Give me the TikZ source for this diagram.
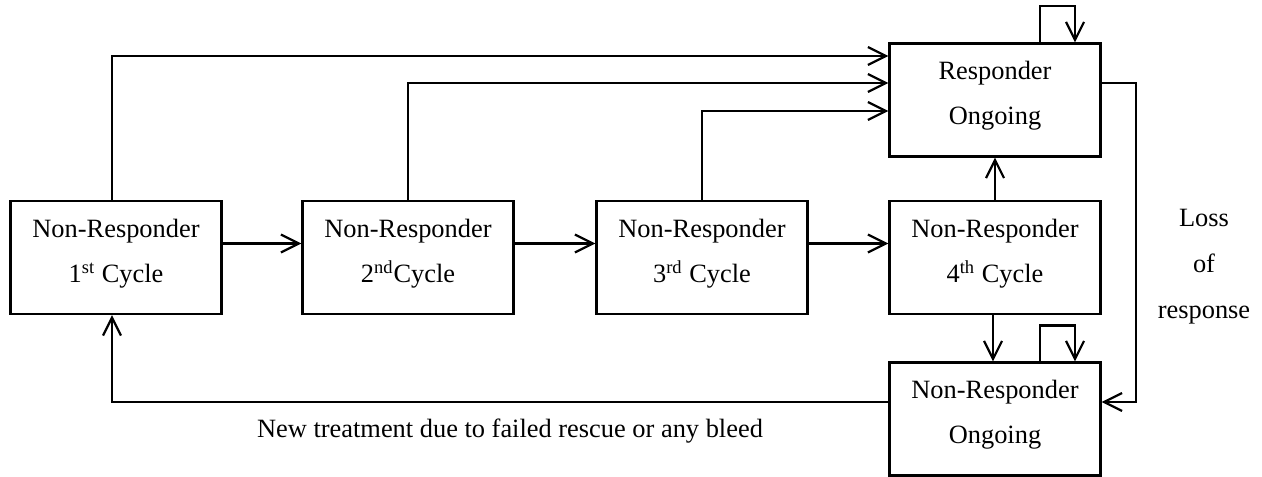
\documentclass[tikz,border=0pt]{standalone}
\usepackage{fontspec}
\setmainfont{Liberation Serif}
\usetikzlibrary{arrows.meta}
\tikzset{
  stagebox/.style={
    draw,
    line width=1.1pt,
    minimum width=105.5pt,
    minimum height=56.5pt,
    inner sep=0pt,
    align=center,
    text depth=7pt,
    font=\fontsize{13.2}{22.5}\selectfont,
  },
  flowline/.style={
    line width=1.1pt,
    ->,
  },
  sidetext/.style={
    align=center,
    font=\fontsize{13.2}{23}\selectfont,
  }
}
\newcommand{\stage}[3]{%
  \node[stagebox] (#1) at (#2) {#3};
}

\begin{document}
\begin{tikzpicture}[x=0.5pt, y=-0.5pt, >={Straight Barb[length=9pt,width=9pt]}]

\useasboundingbox (0,0) rectangle (1262,476);

% cycles of non-response
\stage{cyc1}{116,257.5}{Non-Responder\\1\textsuperscript{st} Cycle}
\stage{cyc2}{408,257.5}{Non-Responder\\2\textsuperscript{nd}Cycle}
\stage{cyc3}{702,257.5}{Non-Responder\\3\textsuperscript{rd} Cycle}
\stage{cyc4}{995,257.5}{Non-Responder\\4\textsuperscript{th} Cycle}

% ongoing states
\stage{resp}{995,100}{Responder\\Ongoing}
\stage{nonresp}{995,419}{Non-Responder\\Ongoing}

% forward through the cycles
\draw[flowline] ([yshift=7pt]cyc1.east) -- ([yshift=7pt]cyc2.west);
\draw[flowline] ([yshift=7pt]cyc2.east) -- ([yshift=7pt]cyc3.west);
\draw[flowline] ([yshift=7pt]cyc3.east) -- ([yshift=7pt]cyc4.west);

% response after each cycle
\draw[flowline] ([xshift=-2pt]cyc1.north) |- ([yshift=22pt]resp.west);
\draw[flowline] (cyc2.north) |- ([yshift=8.5pt]resp.west);
\draw[flowline] (cyc3.north) |- ([yshift=-5.5pt]resp.west);
\draw[flowline] (cyc4.north) -- (resp.south);
\draw[flowline] ([xshift=-1pt]cyc4.south) -- ([xshift=-1pt]nonresp.north);

% staying in the same state
\draw[flowline] ([xshift=22.5pt]resp.north) -- ++(0,-36) -| ([xshift=40pt]resp.north);
\draw[flowline] ([xshift=22.5pt]nonresp.north) -- ++(0,-36) -| ([xshift=40pt]nonresp.north);

% loss of response
\draw[flowline] ([yshift=8.5pt]resp.east) -- ++(34,0) |- ([yshift=8.5pt]nonresp.east);
\node[sidetext] (loss) at (1204,267) {Loss\\of\\response};

% back to the first cycle
\draw[flowline] ([yshift=8.5pt]nonresp.west) -| ([xshift=-2pt]cyc1.south);
\node[sidetext] (newtx) at (510,431) {New treatment due to failed rescue or any bleed};

\end{tikzpicture}
\end{document}
